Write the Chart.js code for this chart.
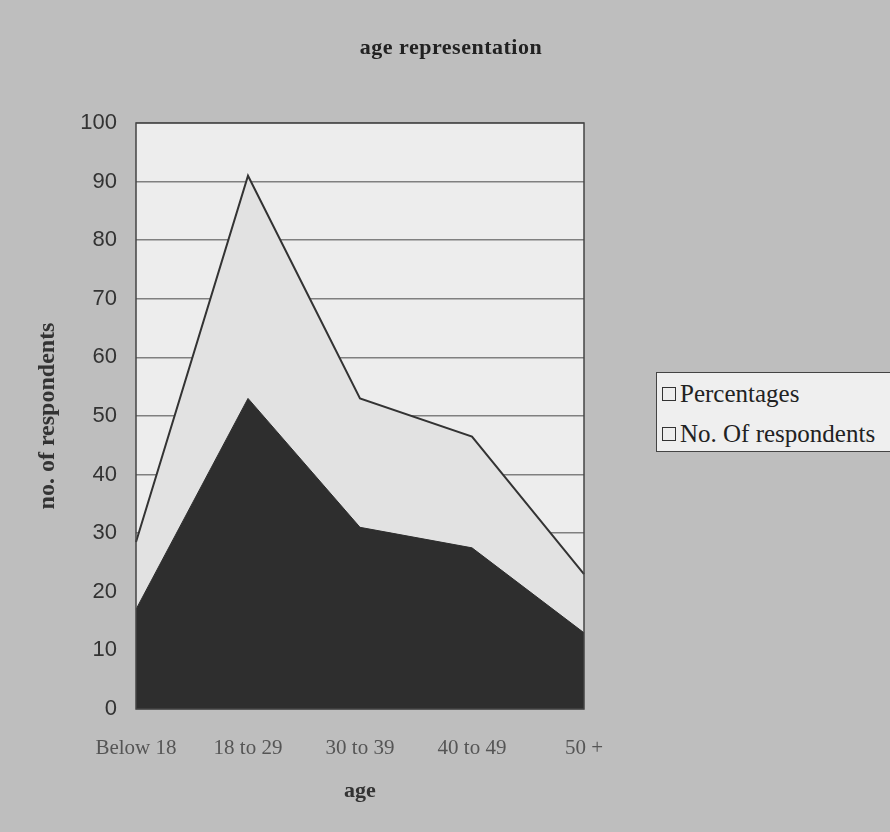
<!DOCTYPE html>
<html>
<head>
<meta charset="utf-8">
<script src="https://cdn.jsdelivr.net/npm/chart.js@4.4.1/dist/chart.umd.min.js"></script>
<style>
    body { margin: 0; background: #bdbdbd; }
    #contenedor { position: relative; width: 890px; height: 832px; background: #bebebe; overflow: hidden; }
    #titulo {
        position: absolute; left: 0; width: 902px; top: 34px; text-align: center;
        font: bold 22px "Liberation Serif", "Times New Roman", serif; color: #222;
        letter-spacing: 0.5px;
    }
    #leyenda {
        position: absolute; left: 656px; top: 372px; width: 250px; height: 80px;
        background: #efefef; border: 1px solid #444; box-sizing: border-box;
        font: 25px "Liberation Serif", "Times New Roman", serif; color: #222;
        padding-top: 6px; padding-left: 5px;
    }
    .item { height: 40px; line-height: 30px; white-space: nowrap; }
    .cuadro { display: inline-block; width: 12px; height: 12px; border: 1.5px solid #333; background: #eee; margin-right: 4px; vertical-align: 1px; }
</style>
</head>
<body>
<div id="contenedor">
    <canvas id="grafica" width="890" height="832"></canvas>
    <div id="titulo">age representation</div>
    <div id="leyenda"></div>
</div>
<script>
// Datos
const edades = ['Below 18', '18 to 29', '30 to 39', '40 to 49', '50 +'];
const respondentes = [17, 53, 31, 27.5, 13];
const porcentajes = [11.5, 38, 22, 19, 10];
const ticksY = [0, 10, 20, 30, 40, 50, 60, 70, 80, 90, 100];

// Fondo del área de la gráfica y su borde
const fondoArea = {
    id: 'fondoArea',
    beforeDraw(chart) {
        const { ctx, chartArea: a } = chart;
        ctx.save();
        ctx.fillStyle = '#ededed';
        ctx.fillRect(a.left, a.top, a.right - a.left, a.bottom - a.top);
        ctx.restore();
    },
    afterDraw(chart) {
        const { ctx, chartArea: a } = chart;
        ctx.save();
        ctx.strokeStyle = '#444';
        ctx.lineWidth = 1.5;
        ctx.strokeRect(a.left, a.top, a.right - a.left, a.bottom - a.top);
        ctx.restore();
    }
};

const ctx = document.getElementById('grafica').getContext('2d');
let grafica = new Chart(ctx, {
    type: 'line',
    data: {
        labels: edades,
        datasets: [{
            label: 'No. Of respondents',
            data: respondentes,
            fill: 'origin',
            backgroundColor: '#2e2e2e',
            borderColor: '#2e2e2e',
            borderWidth: 1,
            pointRadius: 0,
            tension: 0
        }, {
            label: 'Percentages',
            data: porcentajes,
            fill: '-1',
            backgroundColor: '#e2e2e2',
            borderColor: '#333',
            borderWidth: 2,
            pointRadius: 0,
            tension: 0
        }]
    },
    options: {
        responsive: false,
        animation: false,
        layout: { padding: { top: 123, right: 306, left: 0, bottom: 0 } },
        plugins: {
            legend: { display: false },
            tooltip: { enabled: false }
        },
        scales: {
            x: {
                offset: false,
                grid: { display: false, drawTicks: false },
                border: { display: false },
                ticks: {
                    padding: 27,
                    maxRotation: 0,
                    color: '#555',
                    font: { family: '"Liberation Serif", "Times New Roman", serif', size: 21 }
                },
                title: {
                    display: true,
                    text: 'age',
                    color: '#333',
                    padding: { top: 0, bottom: 27 },
                    font: { family: '"Liberation Serif", "Times New Roman", serif', size: 22, weight: 'bold' }
                },
                afterFit(scale) { scale.height = 123; }
            },
            y: {
                stacked: true,
                min: 0,
                max: 100,
                afterBuildTicks(scale) { scale.ticks = ticksY.map(v => ({ value: v })); },
                grid: { color: '#808080', lineWidth: 1.5, drawTicks: false },
                border: { display: false },
                ticks: {
                    padding: 19,
                    color: '#333',
                    font: { family: '"Liberation Sans", Arial, sans-serif', size: 22 }
                },
                title: {
                    display: true,
                    text: 'no. of respondents',
                    color: '#333',
                    padding: { top: 33, bottom: 0 },
                    font: { family: '"Liberation Serif", "Times New Roman", serif', size: 24, weight: 'bold' }
                },
                afterFit(scale) { scale.width = 136; }
            }
        }
    },
    plugins: [fondoArea]
});

// Leyenda en HTML (en orden inverso, como en la imagen)
const leyenda = document.getElementById('leyenda');
grafica.data.datasets.slice().reverse().forEach((ds) => {
    const div = document.createElement('div');
    div.className = 'item';
    div.innerHTML = '<span class="cuadro"></span>' + ds.label;
    leyenda.appendChild(div);
});
</script>
</body>
</html>
